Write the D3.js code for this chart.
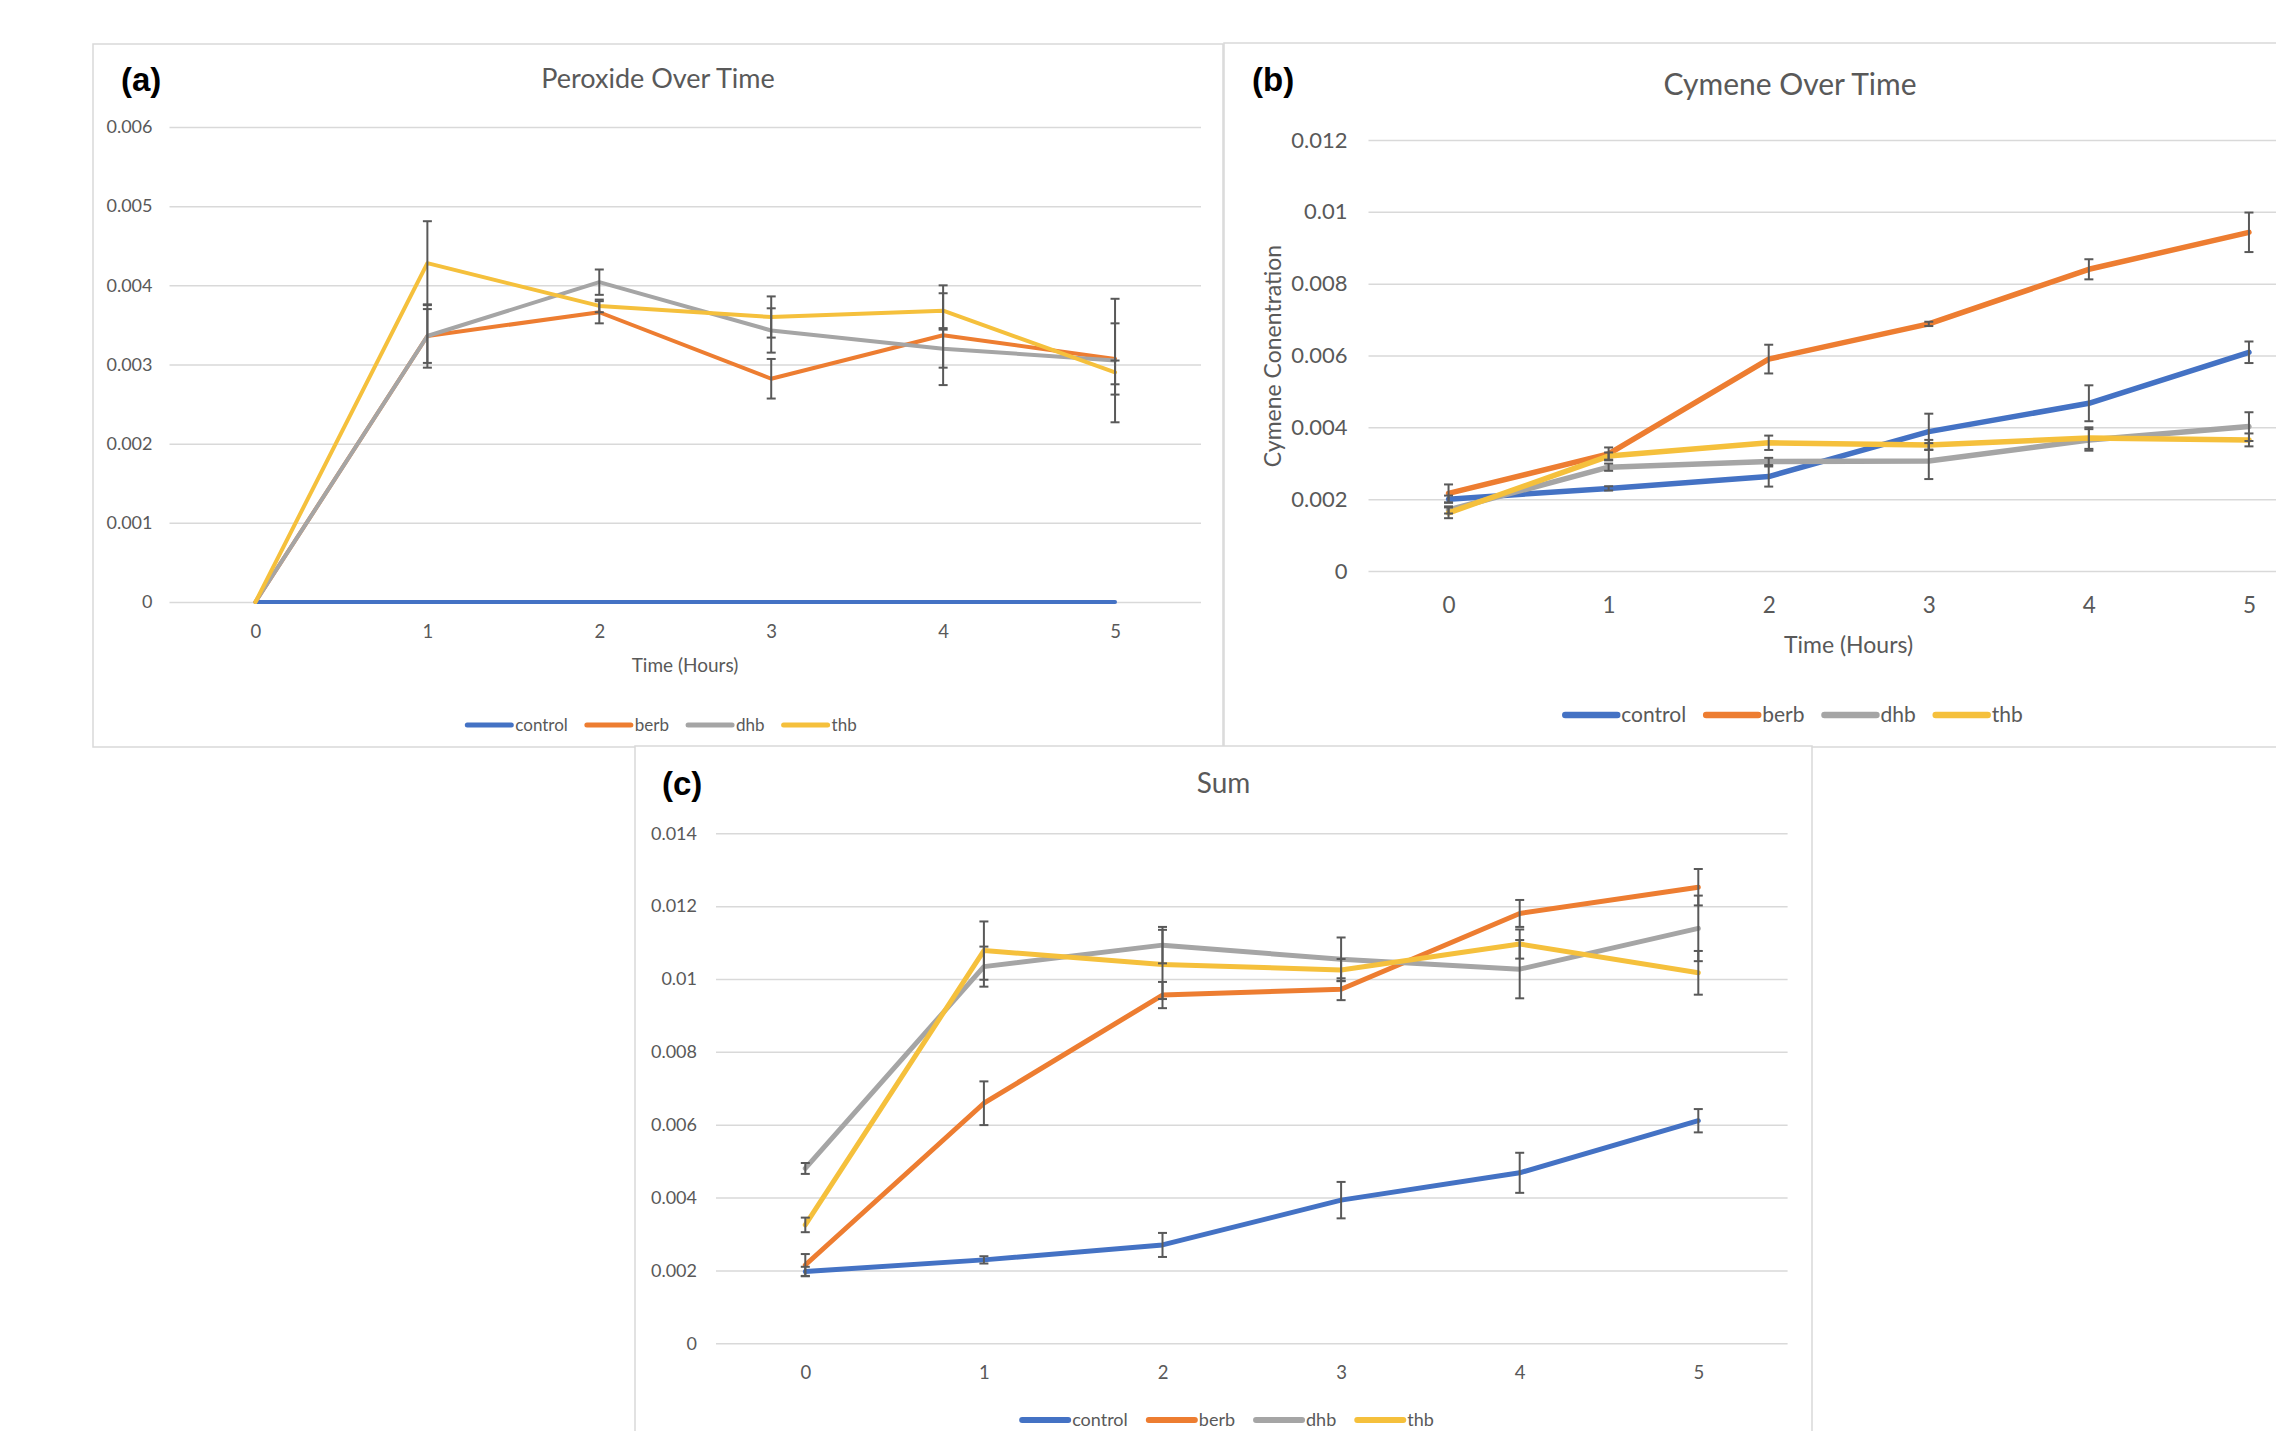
<!DOCTYPE html>
<html lang="en">
<head>
    <meta charset="UTF-8">
    <script src="https://d3js.org/d3.v7.min.js"></script>
    <title>Peroxide, Cymene and Sum over time</title>
    <style>
    body { margin: 0; background: #fff; }
    .gridlines line { stroke: #d9d9d9; stroke-width: 1.5; }
    .gridlines .domain { stroke: none; }
    .xaxis .domain { stroke: none; }
    text { font-family: Lato, "Open Sans", sans-serif; fill: #595959; }
    </style>
</head>
<body>
    <svg id="chart" width="2276" height="1431"></svg>
    <script>
        // data
        const hours = [0, 1, 2, 3, 4, 5];
        const seriesNames = ['control', 'berb', 'dhb', 'thb'];

        const peroxideTicks = [0, 0.001, 0.002, 0.003, 0.004, 0.005, 0.006];
        const peroxideMeans = [
            [0, 0, 0, 0, 0, 0],
            [0, 0.00336, 0.00366, 0.00282, 0.00337, 0.00307],
            [0, 0.00336, 0.00404, 0.00343, 0.00320, 0.00305],
            [0, 0.00428, 0.00374, 0.00360, 0.00368, 0.00290]
        ];
        const peroxideErrors = [
            [0, 0, 0, 0, 0, 0],
            [0, 0.00034, 0.00014, 0.00025, 0.00063, 0.00045],
            [0, 0.00040, 0.00016, 0.00028, 0.00024, 0.00078],
            [0, 0.00053, 0.00008, 0.00026, 0.00022, 0.00015]
        ];

        const cymeneTicks = [0, 0.002, 0.004, 0.006, 0.008, 0.01, 0.012];
        const cymeneMeans = [
            [0.00200, 0.00230, 0.00263, 0.00388, 0.00467, 0.00609],
            [0.00216, 0.00326, 0.00590, 0.00688, 0.00840, 0.00943],
            [0.00170, 0.00289, 0.00305, 0.00306, 0.00365, 0.00402],
            [0.00162, 0.00320, 0.00357, 0.00351, 0.00370, 0.00365]
        ];
        const cymeneErrors = [
            [0.00010, 0.00006, 0.00028, 0.00050, 0.00050, 0.00030],
            [0.00025, 0.00018, 0.00040, 0.00006, 0.00028, 0.00055],
            [0.00010, 0.00010, 0.00010, 0.00050, 0.00030, 0.00040],
            [0.00015, 0.00010, 0.00020, 0.00014, 0.00030, 0.00018]
        ];

        const sumTicks = [0, 0.002, 0.004, 0.006, 0.008, 0.01, 0.012, 0.014];
        const sumMeans = [
            [0.00197, 0.00229, 0.00270, 0.00393, 0.00468, 0.00611],
            [0.00215, 0.00659, 0.00956, 0.00972, 0.01180, 0.01252],
            [0.00480, 0.01034, 0.01093, 0.01054, 0.01027, 0.01139],
            [0.00325, 0.01078, 0.01040, 0.01025, 0.01096, 0.01017]
        ];
        const sumErrors = [
            [0.00013, 0.00010, 0.00033, 0.00050, 0.00055, 0.00032],
            [0.00030, 0.00060, 0.00036, 0.00030, 0.00037, 0.00050],
            [0.00015, 0.00055, 0.00050, 0.00060, 0.00080, 0.00090],
            [0.00020, 0.00080, 0.00095, 0.00030, 0.00040, 0.00060]
        ];

        const colors = ['#4472c4', '#ed7d31', '#a5a5a5', '#f5c03c'];

        // layout of the three panels
        const panels = [
            {letter: '(a)', title: 'Peroxide Over Time', means: peroxideMeans, errors: peroxideErrors, ticks: peroxideTicks,
             box: [93, 44, 1130, 703], titleX: 658, titleY: 88, titleSize: 27, letterX: 121, letterY: 91,
             xRange: [169.5, 1201], yRange: [602, 127], tickSize: 18, tickPad: 17, xTickPad: 23,
             xTitle: 'Time (Hours)', xTitleX: 685, xTitleY: 672, xTitleSize: 19,
             legendX: 662, legendY: 725, legendSize: 17, legendLine: 44, legendGap: 19, lineWidth: 4},
            {letter: '(b)', title: 'Cymene Over Time', means: cymeneMeans, errors: cymeneErrors, ticks: cymeneTicks,
             box: [1224, 43, 1130, 704], titleX: 1790, titleY: 95, titleSize: 30, letterX: 1252, letterY: 91,
             xRange: [1368.5, 2329], yRange: [571, 140], tickSize: 22, tickPad: 21, xTickPad: 26,
             xTitle: 'Time (Hours)', xTitleX: 1848.5, xTitleY: 653, xTitleSize: 23,
             yTitle: 'Cymene Conentration', yTitleX: 1281, yTitleY: 356, yTitleSize: 23,
             legendX: 1794, legendY: 715, legendSize: 21, legendLine: 52, legendGap: 20, lineWidth: 5.5},
            {letter: '(c)', title: 'Sum', means: sumMeans, errors: sumErrors, ticks: sumTicks,
             box: [635, 746, 1177, 700], titleX: 1223.5, titleY: 793, titleSize: 28, letterX: 662, letterY: 795,
             xRange: [716, 1787.6], yRange: [1343.3, 833.3], tickSize: 18, tickPad: 19, xTickPad: 23,
             legendX: 1228, legendY: 1420, legendSize: 18, legendLine: 46, legendGap: 21, lineWidth: 5}
        ];

        const svg = d3.select('svg#chart');

        panels.forEach(p => {
            const g = svg.append('g');

            g.append('rect')
                .attr('x', p.box[0]).attr('y', p.box[1])
                .attr('width', p.box[2]).attr('height', p.box[3])
                .attr('fill', '#fff')
                .attr('stroke', '#d9d9d9')
                .attr('stroke-width', 1.5);

            const xScale = d3.scalePoint().domain(hours).range(p.xRange).padding(0.5);
            const yScale = d3.scaleLinear().domain([0, d3.max(p.ticks)]).range(p.yRange);

            // gridlines + y labels
            const leftAxis = d3.axisLeft(yScale)
                .tickValues(p.ticks)
                .tickSize(-(p.xRange[1] - p.xRange[0]))
                .tickPadding(p.tickPad)
                .tickFormat(d => String(+d.toFixed(4)));
            g.append('g')
                .attr('class', 'gridlines')
                .attr('transform', `translate(${p.xRange[0]},0)`)
                .call(leftAxis)
                .selectAll('text')
                .style('font-size', p.tickSize + 'px')
                .style('fill', '#595959');

            const bottomAxis = d3.axisBottom(xScale).tickSize(0).tickPadding(p.xTickPad);
            g.append('g')
                .attr('class', 'xaxis')
                .attr('transform', `translate(0,${p.yRange[0]})`)
                .call(bottomAxis)
                .selectAll('text')
                .style('font-size', (p.tickSize + 0.5) + 'px')
                .style('fill', '#595959');

            // lines
            const line = d3.line()
                .x((d, i) => xScale(hours[i]))
                .y(d => yScale(d));

            p.means.forEach((vals, s) => {
                g.append('path')
                    .datum(vals)
                    .attr('d', line)
                    .attr('fill', 'none')
                    .attr('stroke', colors[s])
                    .attr('stroke-width', p.lineWidth)
                    .attr('stroke-linejoin', 'round')
                    .attr('stroke-linecap', 'round');
            });

            // error bars
            const bars = p.means.flatMap((vals, s) => vals.map((v, i) => ({
                hour: hours[i], v: v, e: p.errors[s][i]
            }))).filter(d => d.e > 0);

            const eb = g.append('g')
                .attr('stroke', '#595959')
                .attr('stroke-width', 2);
            eb.selectAll('line.stem')
                .data(bars)
                .enter()
                .append('line')
                .attr('x1', d => xScale(d.hour)).attr('x2', d => xScale(d.hour))
                .attr('y1', d => yScale(d.v - d.e)).attr('y2', d => yScale(d.v + d.e));
            eb.selectAll('line.top')
                .data(bars)
                .enter()
                .append('line')
                .attr('x1', d => xScale(d.hour) - 4.5).attr('x2', d => xScale(d.hour) + 4.5)
                .attr('y1', d => yScale(d.v + d.e)).attr('y2', d => yScale(d.v + d.e));
            eb.selectAll('line.bottom')
                .data(bars)
                .enter()
                .append('line')
                .attr('x1', d => xScale(d.hour) - 4.5).attr('x2', d => xScale(d.hour) + 4.5)
                .attr('y1', d => yScale(d.v - d.e)).attr('y2', d => yScale(d.v - d.e));

            // titles
            g.append('text')
                .attr('x', p.titleX).attr('y', p.titleY)
                .attr('text-anchor', 'middle')
                .style('font-size', p.titleSize + 'px')
                .text(p.title);

            g.append('text')
                .attr('x', p.letterX).attr('y', p.letterY)
                .style('font-family', '"Liberation Sans", Arial, sans-serif')
                .style('font-weight', 'bold')
                .style('font-size', '33px')
                .style('fill', '#000')
                .text(p.letter);

            if (p.xTitle) {
                g.append('text')
                    .attr('x', p.xTitleX).attr('y', p.xTitleY)
                    .attr('text-anchor', 'middle')
                    .style('font-size', p.xTitleSize + 'px')
                    .text(p.xTitle);
            }
            if (p.yTitle) {
                g.append('text')
                    .attr('transform', `translate(${p.yTitleX},${p.yTitleY}) rotate(-90)`)
                    .attr('text-anchor', 'middle')
                    .style('font-size', p.yTitleSize + 'px')
                    .text(p.yTitle);
            }

            // legend, laid out left to right then centred
            const legend = g.append('g');
            let cursor = 0;
            seriesNames.forEach((name, s) => {
                legend.append('line')
                    .attr('x1', cursor).attr('x2', cursor + p.legendLine)
                    .attr('y1', 0).attr('y2', 0)
                    .attr('stroke', colors[s])
                    .attr('stroke-width', p.lineWidth + 1)
                    .attr('stroke-linecap', 'round');
                const t = legend.append('text')
                    .attr('x', cursor + p.legendLine + 4)
                    .attr('y', 0)
                    .attr('dy', '0.35em')
                    .style('font-size', p.legendSize + 'px')
                    .text(name);
                cursor += p.legendLine + 4 + t.node().getComputedTextLength() + p.legendGap;
            });
            const legendW = cursor - p.legendGap;
            legend.attr('transform', `translate(${p.legendX - legendW / 2},${p.legendY})`);
        });
    </script>
</body>
</html>
